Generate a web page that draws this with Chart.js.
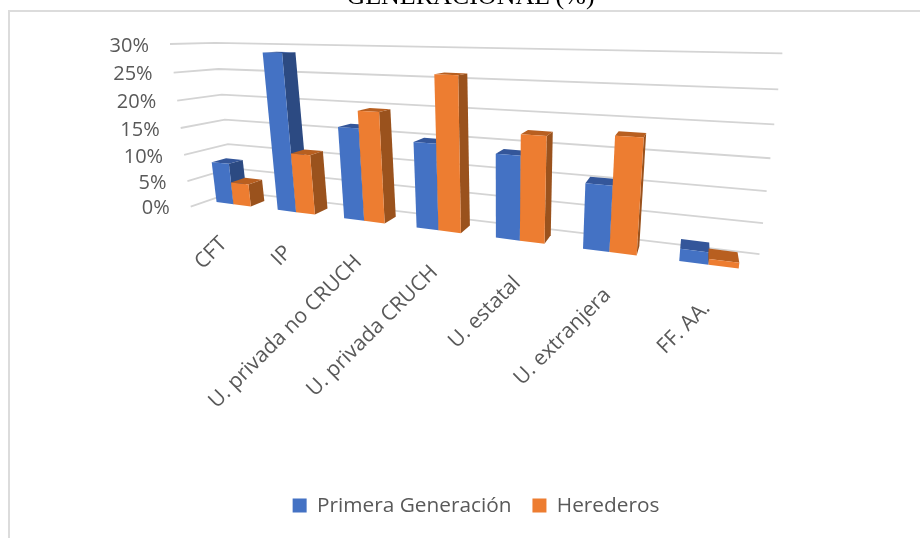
<!DOCTYPE html>
<html>
<head>
<meta charset="utf-8">
<script src="https://cdn.jsdelivr.net/npm/chart.js@4"></script>
<style>
  html, body { margin: 0; padding: 0; width: 920px; height: 538px; overflow: hidden; background: #fff; }
  #titulo { position: absolute; left: 0; width: 941px; top: -19px; text-align: center; font: 26px "Liberation Serif", serif; color: #000; white-space: nowrap; }
  #marco { position: absolute; left: 8px; top: 10px; width: 940px; height: 540px; border-top: 2px solid #dcdcdc; border-left: 2px solid #dcdcdc; }
  #chart { position: absolute; left: 0; top: 0; }
</style>
</head>
<body>
<div id="marco"></div>
<canvas id="chart" width="952" height="538" style="width:952px;height:538px"></canvas>
<div id="titulo">GENERACIONAL (%)</div>
<script>
const categorias = ['CFT', 'IP', 'U. privada no CRUCH', 'U. privada CRUCH', 'U. estatal', 'U. extranjera', 'FF. AA.'];
const primeraGeneracion = [7.9, 28.6, 16.4, 14.8, 13.9, 10.5, 1.9];
const herederos = [4.3, 11, 19.4, 25.9, 17.3, 18, 0.9];

// Vista 3D: plano frontal de paredes y de barras, punto de fuga y profundidades
const quadPared = { bl: [190.7, 206.7], br: [765, 275], tr: [790, 55.5], tl: [170, 44] };
const quadBarra = { bl: [188.7, 205.7], br: [764, 279], tr: [790, 55.5], tl: [168, 43] };
const fuga = [700, 30];
const prof = { pared: 0.085, barraFrente: 0.03, barraFondoIzq: 0.058, barraFondoDer: 0.075 };
const tonos = {
  '#4472C4': { top: '#34569a', side: '#2c4a82' },
  '#ED7D31': { top: '#b85f20', side: '#9a521d' },
};

function homografia(q) {
  const [ax, ay] = q.bl, [bx, by] = q.br, [cx, cy] = q.tr, [dx, dy] = q.tl;
  const dx1 = bx - cx, dx2 = dx - cx, sx = ax - bx + cx - dx;
  const dy1 = by - cy, dy2 = dy - cy, sy = ay - by + cy - dy;
  const den = dx1 * dy2 - dx2 * dy1;
  const g = (sx * dy2 - dx2 * sy) / den, h = (dx1 * sy - sx * dy1) / den;
  const a = bx - ax + g * bx, b = dx - ax + h * dx, d = by - ay + g * by, e = dy - ay + h * dy;
  return function (u, v, s) {
    const w = g * u + h * v + 1;
    const x = (a * u + b * v + ax) / w, y = (d * u + e * v + ay) / w;
    return [x + s * (fuga[0] - x), y + s * (fuga[1] - y)];
  };
}
const pPared = homografia(quadPared);
const pBarra = homografia(quadBarra);

function poly(ctx, pts, color) {
  ctx.beginPath();
  pts.forEach((p, i) => i ? ctx.lineTo(p[0], p[1]) : ctx.moveTo(p[0], p[1]));
  ctx.closePath();
  ctx.fillStyle = color;
  ctx.fill();
}

function barra3d(ctx, chart, el, color) {
  const area = chart.chartArea;
  const p = el.getProps(['x', 'y', 'base', 'width'], true);
  const u0 = (p.x - p.width / 2 - area.left) / area.width, u1 = (p.x + p.width / 2 - area.left) / area.width;
  const v0 = (area.bottom - p.base) / area.height, v1 = (area.bottom - p.y) / area.height;
  const F = prof.barraFrente, B = prof.barraFondoIzq + (prof.barraFondoDer - prof.barraFondoIzq) * u0;
  const fbl = pBarra(u0, v0, F), fbr = pBarra(u1, v0, F), ftr = pBarra(u1, v1, F), ftl = pBarra(u0, v1, F);
  const bbl = pBarra(u0, v0, B), bbr = pBarra(u1, v0, B), btr = pBarra(u1, v1, B), btl = pBarra(u0, v1, B);
  if (bbr[0] > fbr[0]) poly(ctx, [fbr, bbr, btr, ftr], tonos[color].side);
  if (bbl[0] < fbl[0]) poly(ctx, [fbl, bbl, btl, ftl], tonos[color].side);
  poly(ctx, [ftl, ftr, btr, btl], tonos[color].top);
  poly(ctx, [fbl, fbr, ftr, ftl], color);
}

const vista3d = {
  id: 'vista3d',
  beforeDatasetsDraw(chart) {
    const { ctx, scales: { x, y }, chartArea: area } = chart;
    ctx.save();
    // paredes: lineas de division y etiquetas del eje de valores
    y.ticks.forEach(t => {
      const v = (area.bottom - y.getPixelForValue(t.value)) / area.height;
      const a = pPared(0, v, 0), b = pPared(0, v, prof.pared), c = pPared(1, v, prof.pared);
      ctx.beginPath();
      ctx.moveTo(a[0], a[1]); ctx.lineTo(b[0], b[1]); ctx.lineTo(c[0], c[1]);
      ctx.strokeStyle = '#d4d4d4';
      ctx.lineWidth = 1.8;
      ctx.stroke();
      ctx.font = '20px "Open Sans"';
      ctx.fillStyle = '#595959';
      ctx.textAlign = 'right';
      ctx.textBaseline = 'middle';
      ctx.fillText(t.label, a[0] - 21, a[1] + 2);
    });
    // etiquetas de categoria
    x.ticks.forEach((t, i) => {
      const u = (x.getPixelForTick(i) - area.left) / area.width;
      const p = pPared(u, 0, prof.barraFrente);
      ctx.save();
      ctx.translate(p[0] - 13 + 10 * u, p[1] + 35 + 9 * u);
      ctx.rotate(-Math.PI / 4);
      ctx.font = '21px "Open Sans"';
      ctx.fillStyle = '#595959';
      ctx.textAlign = 'right';
      ctx.textBaseline = 'middle';
      ctx.fillText(t.label, 0, 0);
      ctx.restore();
    });
    // barras por categoria: primero azul, luego naranja encima
    categorias.forEach((c, i) => {
      chart.data.datasets.forEach((ds, k) => {
        barra3d(ctx, chart, chart.getDatasetMeta(k).data[i], ds.backgroundColor);
      });
    });
    ctx.restore();
  },
  // cada barra se dibuja en 3D, no la plana
  beforeDatasetDraw() { return false; },
};

new Chart(document.getElementById('chart'), {
  type: 'bar',
  data: {
    labels: categorias,
    datasets: [
      { label: 'Primera Generación', data: primeraGeneracion, backgroundColor: '#4472C4' },
      { label: 'Herederos', data: herederos, backgroundColor: '#ED7D31' },
    ],
  },
  options: {
    responsive: false,
    animation: false,
    events: [],
    layout: { padding: { top: 40, bottom: 12, left: 40, right: 40 } },
    datasets: { bar: { categoryPercentage: 0.57, barPercentage: 1 } },
    scales: {
      x: { grid: { display: false }, border: { display: false }, ticks: { display: true, color: 'rgba(0,0,0,0)', font: { size: 1 } } },
      y: { min: 0, max: 30, grid: { display: false }, border: { display: false }, ticks: { stepSize: 5, color: 'rgba(0,0,0,0)', font: { size: 1 }, callback: v => v + '%' } },
    },
    plugins: {
      tooltip: { enabled: false },
      legend: {
        position: 'bottom',
        labels: { boxWidth: 14, boxHeight: 14, padding: 21, color: '#595959', font: { family: '"Open Sans"', size: 20.8 } },
      },
    },
  },
  plugins: [vista3d],
});
</script>
</body>
</html>
